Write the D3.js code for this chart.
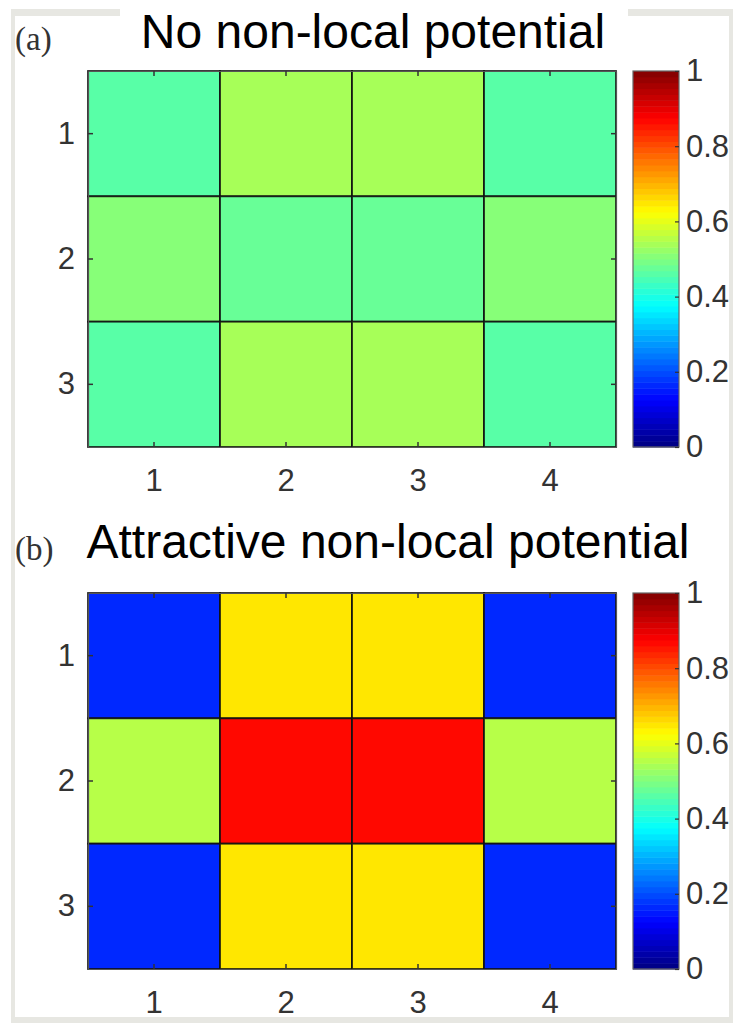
<!DOCTYPE html>
<html>
<head>
<meta charset="utf-8">
<script src="https://cdn.jsdelivr.net/npm/d3@7"></script>
<style>
  html, body { margin: 0; padding: 0; background: #fff; }
  svg { display: block; }
</style>
</head>
<body>
<div id="chart"></div>
<script>
// grid labels
const cols = [1, 2, 3, 4];
const rows = [1, 2, 3];

// panel (a): no non-local potential, one row per y label
const valuesA = [
  [0.46, 0.54, 0.54, 0.46],
  [0.51, 0.48, 0.48, 0.51],
  [0.46, 0.54, 0.54, 0.46]
];

// panel (b): attractive non-local potential
const valuesB = [
  [0.16, 0.65, 0.65, 0.16],
  [0.56, 0.87, 0.87, 0.56],
  [0.16, 0.65, 0.65, 0.16]
];

const colorTicks = [0, 0.2, 0.4, 0.6, 0.8, 1];
const titles = ["No non-local potential", "Attractive non-local potential"];
const tags = ["(a)", "(b)"];

const width = 733, height = 1023;
const sansFont = "'Liberation Sans', Arial, sans-serif";

// MATLAB-style jet colormap, 64 steps
const jet = d3.scaleLinear()
    .domain([0, 0.125, 0.375, 0.625, 0.875, 1])
    .range(["#000080", "#0000ff", "#00ffff", "#ffff00", "#ff0000", "#800000"]);
const nColors = 64;
const jetStep = v => jet((Math.min(nColors - 1, Math.floor(v * nColors)) + 0.5) / nColors);

const svg = d3.select("#chart").append("svg")
    .attr("width", width)
    .attr("height", height)
    .attr("viewBox", [0, 0, width, height])
    .style("font-family", sansFont);

svg.append("rect").attr("width", width).attr("height", height).attr("fill", "#fff");

// light grey frame round the figure, broken by the first title
const frame = svg.append("g").attr("fill", "#e7e7e2");
frame.append("rect").attr("x", 11).attr("y", 9).attr("width", 109).attr("height", 7);
frame.append("rect").attr("x", 628).attr("y", 9).attr("width", 105).attr("height", 7);
frame.append("rect").attr("x", 11).attr("y", 9).attr("width", 4).attr("height", 1014);
frame.append("rect").attr("x", 729).attr("y", 9).attr("width", 4).attr("height", 1014);
frame.append("rect").attr("x", 11).attr("y", 1017).attr("width", 722).attr("height", 6);

const plotLeft = 88, plotRight = 616;
const cbLeft = 633, cbRight = 679;
const panelTops = [71, 593];
const panelH = 376;

function styleLabels(sel) {
  sel.attr("font-size", 31)
    .attr("font-family", sansFont)
    .attr("fill", "#333");
}

function drawPanel(values, top, title, tag, titleY) {
  const g = svg.append("g");
  const bottom = top + panelH;

  const x = d3.scaleBand().domain(cols).range([plotLeft, plotRight]);
  const y = d3.scaleBand().domain(rows).range([top, bottom]);

  const cells = [];
  values.forEach((row, i) => row.forEach((v, j) => cells.push({r: rows[i], c: cols[j], v})));

  g.append("g")
    .selectAll("rect")
    .data(cells)
    .join("rect")
      .attr("x", d => x(d.c))
      .attr("y", d => y(d.r))
      .attr("width", x.bandwidth())
      .attr("height", y.bandwidth())
      .attr("fill", d => jetStep(d.v))
      .attr("stroke", "#111")
      .attr("stroke-opacity", 0.9)
      .attr("stroke-width", 1.8);

  // axes, ticks inside like matlab
  const axB = g.append("g")
      .attr("transform", `translate(0,${bottom})`)
      .call(d3.axisBottom(x).tickSizeInner(-5).tickSizeOuter(0).tickPadding(22));
  const axL = g.append("g")
      .attr("transform", `translate(${plotLeft},0)`)
      .call(d3.axisLeft(y).tickSizeInner(-5).tickSizeOuter(0).tickPadding(13));
  const axT = g.append("g")
      .attr("transform", `translate(0,${top})`)
      .call(d3.axisTop(x).tickSizeInner(-5).tickSizeOuter(0).tickFormat(""));
  const axR = g.append("g")
      .attr("transform", `translate(${plotRight},0)`)
      .call(d3.axisRight(y).tickSizeInner(-5).tickSizeOuter(0).tickFormat(""));
  [axB, axL, axT, axR].forEach(a => {
    a.select(".domain").attr("stroke", "#555").attr("stroke-width", 1.2);
    a.selectAll(".tick line").attr("stroke", "#333").attr("stroke-width", 1.5);
    styleLabels(a.selectAll("text"));
  });

  // colorbar
  const cy = d3.scaleLinear().domain([0, 1]).range([bottom, top]);
  const bands = d3.range(nColors);
  g.append("g")
    .selectAll("rect")
    .data(bands)
    .join("rect")
      .attr("x", cbLeft)
      .attr("y", i => cy((i + 1) / nColors))
      .attr("width", cbRight - cbLeft)
      .attr("height", i => cy(i / nColors) - cy((i + 1) / nColors) + 0.5)
      .attr("fill", i => jet((i + 0.5) / nColors));
  g.append("rect")
    .attr("x", cbLeft).attr("y", top)
    .attr("width", cbRight - cbLeft).attr("height", panelH)
    .attr("fill", "none").attr("stroke", "#666").attr("stroke-width", 1.2);
  const axC = g.append("g")
      .attr("transform", `translate(${cbRight},0)`)
      .call(d3.axisRight(cy).tickValues(colorTicks).tickSizeInner(-4).tickSizeOuter(0)
        .tickPadding(7).tickFormat(d => String(+d.toFixed(1))));
  axC.select(".domain").remove();
  axC.selectAll(".tick line").attr("stroke", "#333").attr("stroke-width", 1.2);
  styleLabels(axC.selectAll("text"));

  // titles
  g.append("text")
    .attr("x", 15).attr("y", titleY + 2)
    .attr("font-family", "'Liberation Serif', 'Times New Roman', serif")
    .attr("font-size", 33)
    .attr("fill", "#333")
    .text(tag);
  g.append("text")
    .attr("x", tag === "(a)" ? 373 : 388).attr("y", titleY)
    .attr("text-anchor", "middle")
    .attr("font-size", 48)
    .attr("fill", "#000")
    .text(title);
}

drawPanel(valuesA, panelTops[0], titles[0], tags[0], 48);
drawPanel(valuesB, panelTops[1], titles[1], tags[1], 558);
</script>
</body>
</html>
